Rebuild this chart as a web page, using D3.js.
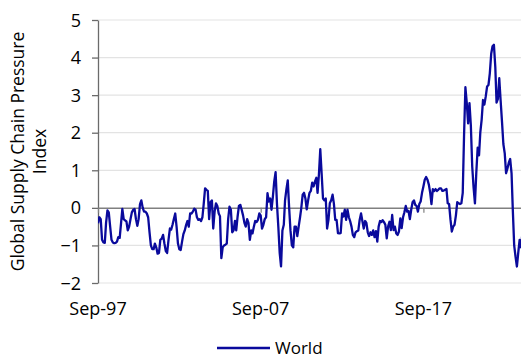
<!DOCTYPE html>
<html>
<head>
<meta charset="utf-8">
<script src="https://cdn.jsdelivr.net/npm/d3@7"></script>
<style>
    body { margin: 0; background: #fff; }
    #chart-area text { font-family: "Open Sans", sans-serif; fill: #000; }
</style>
</head>
<body>
<div id="chart-area"></div>
<script>

/* * * * * * * * * * * * * *
*    supply chain line     *
* * * * * * * * * * * * * */

// monthly index, first value is Sep-97
const seriesName = "World";
const firstMonth = new Date(1997, 8, 1);
const gscpiValues = [
    -0.41, -0.25, -0.3, -0.85, -0.92, -0.93, -0.4, -0.07, -0.12, -0.5,
    -0.85, -0.92, -0.94, -0.93, -0.9, -0.78, -0.8, -0.4, -0.03, -0.3,
    -0.33, -0.36, -0.6, -0.5, -0.3, -0.12, -0.05, -0.03, -0.3, -0.48,
    -0.3, 0.1, 0.2, 0.0, -0.1, -0.1, -0.15, -0.25, -0.65, -1.0,
    -1.1, -1.1, -0.95, -1.05, -1.22, -1.2, -0.85, -0.82, -0.72, -0.95,
    -1.15, -1.2, -0.85, -0.55, -0.58, -0.45, -0.3, -0.15, -0.5, -0.95,
    -1.1, -1.12, -0.9, -0.7, -0.6, -0.45, -0.35, -0.5, -0.15, -0.15,
    -0.1, -0.02, -0.05, -0.25, -0.32, -0.3, -0.35, -0.25, 0.1, 0.52,
    0.48, 0.45, -0.3, 0.15, 0.2, -0.55, -0.1, 0.12, 0.05, -0.15,
    -0.22, -1.34, -1.05, -1.0, -0.98, -0.95, -0.3, 0.03, -0.05, -0.65,
    -0.6, -0.35, -0.6, -0.23, 0.05, 0.08, -0.05, -0.2, -0.4, -0.5,
    -0.3, -0.4, -0.85, -0.6, -0.68, -0.5, -0.35, -0.38, -0.32, -0.15,
    -0.2, -0.55, -0.45, -0.3, -0.25, 0.39, 0.17, 0.25, -0.05, 0.3,
    0.7, 0.95, 0.1, -0.5, -1.2, -1.56, -0.6, -0.45, 0.2, 0.5,
    0.73, 0.0, -0.6, -1.0, -1.05, -0.5, -0.5, -0.75, -0.5, -0.25,
    0.0, 0.35, 0.4, 0.25, -0.04, 0.2, 0.4, 0.45, 0.67, 0.57,
    0.7, 0.8, 0.4, 0.9, 1.56, 0.9, 0.25, 0.2, 0.25, -0.55,
    -0.32, 0.12, 0.2, 0.35, 0.12, -0.32, -0.32, -0.67, -0.68, -0.67,
    -0.15, -0.23, -0.05, -0.32, -0.05, -0.25, -0.35, -0.5, -0.72, -0.78,
    -0.65, -0.62, -0.6, -0.32, -0.15, -0.35, -0.55, -0.35, -0.4, -0.65,
    -0.75, -0.65, -0.72, -0.6, -0.78, -0.62, -0.9, -0.5, -0.35, -0.38,
    -0.33, -0.38, -0.45, -0.81, -0.5, -0.37, -0.59, -0.19, -0.59, -0.5,
    -0.68, -0.72, -0.63, -0.28, -0.54, -0.25, -0.12, 0.05, -0.1, -0.08,
    -0.3, -0.05, 0.15, 0.2, 0.08, 0.05, -0.1, 0.1, 0.17, 0.4,
    0.57, 0.75, 0.82, 0.75, 0.62, 0.4, 0.1, 0.5, 0.45, 0.5,
    0.45, 0.48, 0.52, 0.52, 0.45, 0.46, 0.48, 0.5, 0.12, 0.1,
    -0.3, -0.63, -0.5, -0.45, -0.2, 0.15, 0.12, 0.1, 0.12, 0.4,
    1.9, 3.21, 2.8, 2.25, 2.79, 2.2, 1.1, 0.55, 0.12, 0.92,
    1.6, 1.4, 2.0, 2.35, 2.87, 2.75, 2.96, 3.23, 3.27, 3.58,
    4.1, 4.3, 4.34, 3.75, 2.8, 2.9, 3.45, 2.85, 2.3, 1.7,
    1.45, 0.92, 1.05, 1.2, 1.3, 0.92, -0.05, -1.0, -1.3, -1.56,
    -1.2, -0.85, -1.05, -0.7
];
const xTickLabels = ["Sep-97", "Sep-07", "Sep-17"];
const xTickMonths = [0, 120, 240];
const yTicks = [-2, -1, 0, 1, 2, 3, 4, 5];
const yTitleLines = ["Global Supply Chain Pressure", "Index"];

class SupplyChainVis {

    constructor(parentElement) {
        this.parentElement = parentElement;
        this.data = gscpiValues.map((v, i) => ({date: d3.timeMonth.offset(firstMonth, i), value: v}));
        this.initVis();
    }

    initVis() {
        let vis = this;

        vis.margin = {top: 20, left: 98, right: 0, bottom: 75};
        vis.width = 521 - vis.margin.left - vis.margin.right;
        vis.height = 358 - vis.margin.top - vis.margin.bottom;

        vis.svg = d3.select("#" + vis.parentElement).append("svg")
            .attr("width", 521)
            .attr("height", 358)
            .append("g")
            .attr("transform", `translate(${vis.margin.left}, ${vis.margin.top})`);

        vis.svg.append("clipPath").attr("id", "plot-clip")
            .append("rect")
            .attr("x", 0).attr("y", -5)
            .attr("width", vis.width).attr("height", vis.height + 10);

        vis.x = d3.scaleTime()
            .domain([firstMonth, d3.timeMonth.offset(firstMonth, 312)])
            .range([0, vis.width]);

        vis.y = d3.scaleLinear()
            .domain([-2, 5])
            .range([vis.height, 0]);

        vis.wrangleData();
    }

    wrangleData() {
        let vis = this;
        vis.updateVis();
    }

    updateVis() {
        let vis = this;

        // gridlines
        vis.svg.append("g").attr("class", "grid")
            .selectAll("line").data(yTicks.filter(d => d !== 0))
            .enter().append("line")
            .attr("x1", 0).attr("x2", vis.width)
            .attr("y1", d => vis.y(d)).attr("y2", d => vis.y(d))
            .attr("stroke", "#e3e3e3")
            .attr("stroke-width", 1.2);

        // y axis
        let yAxis = vis.svg.append("g")
            .call(d3.axisLeft(vis.y).tickValues(yTicks).tickFormat(d3.format("d"))
                .tickSize(6).tickSizeOuter(0).tickPadding(11));
        yAxis.select(".domain").attr("stroke", "#6b6b6b").attr("stroke-width", 1.3);
        yAxis.selectAll(".tick line").attr("stroke", "#6b6b6b").attr("stroke-width", 1.3);
        yAxis.selectAll("text").style("font-size", "18px").attr("dy", "0.34em");

        // x axis sits on zero
        let xTickDates = xTickMonths.map(m => d3.timeMonth.offset(firstMonth, m));
        let xAxis = vis.svg.append("g")
            .attr("transform", `translate(0, ${vis.y(0)})`)
            .call(d3.axisBottom(vis.x).tickValues(xTickDates).tickSize(5).tickSizeOuter(0).tickFormat(""));
        xAxis.select(".domain").attr("stroke", "#808080").attr("stroke-width", 1.5);
        xAxis.selectAll(".tick line").attr("stroke", "#808080").attr("stroke-width", 1.2);

        // x labels at bottom
        vis.svg.append("g").selectAll("text").data(xTickDates)
            .enter().append("text")
            .attr("x", d => vis.x(d))
            .attr("y", vis.height + 32)
            .attr("text-anchor", "middle")
            .style("font-size", "18px")
            .text((d, i) => xTickLabels[i]);

        // the line
        let line = d3.line()
            .x(d => vis.x(d.date))
            .y(d => vis.y(d.value));

        vis.svg.append("path")
            .datum(vis.data)
            .attr("clip-path", "url(#plot-clip)")
            .attr("d", line)
            .attr("fill", "none")
            .attr("stroke", "#0a0a9c")
            .attr("stroke-width", 2.3)
            .attr("stroke-linejoin", "round");

        // y title
        vis.svg.append("g")
            .attr("transform", `translate(${-vis.margin.left}, ${vis.height / 2}) rotate(-90)`)
            .selectAll("text").data(yTitleLines)
            .enter().append("text")
            .attr("x", 0)
            .attr("y", (d, i) => 24 + i * 22)
            .attr("text-anchor", "middle")
            .style("font-size", "17.5px")
            .text(d => d);

        // legend
        let legend = vis.svg.append("g")
            .attr("transform", `translate(${217 - vis.margin.left}, ${348 - vis.margin.top})`);
        legend.append("line")
            .attr("x1", 0).attr("x2", 53)
            .attr("stroke", "#0a0a9c")
            .attr("stroke-width", 2.3);
        legend.append("text")
            .attr("x", 58).attr("y", 6)
            .style("font-size", "17px")
            .text(seriesName);
    }
}

new SupplyChainVis("chart-area");
</script>
</body>
</html>
